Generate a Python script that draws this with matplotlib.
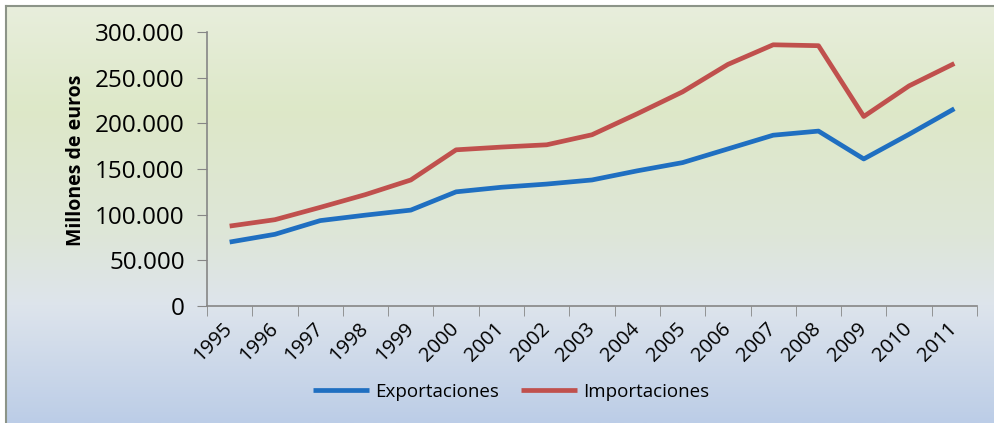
import numpy as np
import matplotlib
matplotlib.use("Agg")
import matplotlib.pyplot as plt
from matplotlib.colors import LinearSegmentedColormap
from matplotlib.ticker import FuncFormatter, FixedLocator

years = [str(y) for y in range(1995, 2012)]
exportaciones = [70000, 78500, 93500, 99500, 105000, 125000, 130000, 133500, 138000,
                 148000, 157000, 172000, 187000, 191500, 161000, 188000, 216000]
importaciones = [87500, 94500, 108000, 122000, 138000, 171000, 174000, 176500, 187500,
                 210500, 234500, 264500, 286000, 285000, 207500, 241000, 265500]

plt.rcParams['font.family'] = ['Open Sans', 'DejaVu Sans']

fig = plt.figure(figsize=(9.95, 4.23), dpi=100)
fig.patch.set_facecolor('white')

# background gradient over the whole chart area
bg = fig.add_axes([7 / 995, 0, 1 - 7 / 995, 1 - 7 / 423], zorder=-10)
cmap = LinearSegmentedColormap.from_list('bg', [
    (0.0, '#e8eedc'), (0.25, '#dde8c8'), (0.55, '#dee6d8'),
    (0.72, '#dde4ec'), (1.0, '#bccde7')])
grad = np.linspace(0, 1, 256).reshape(-1, 1)
bg.imshow(grad, aspect='auto', cmap=cmap, extent=[0, 1, 0, 1], origin='upper')
bg.set_xlim(0, 1)
bg.set_ylim(0, 1)
bg.axis('off')
# frame lines on the left and top
fig.add_artist(plt.Line2D([6.5 / 995, 6.5 / 995], [0, 1 - 6.5 / 423],
                          transform=fig.transFigure, color='#8c9488', lw=1.5))
fig.add_artist(plt.Line2D([6.5 / 995, 1], [1 - 6.5 / 423, 1 - 6.5 / 423],
                          transform=fig.transFigure, color='#8c9488', lw=1.5))

ax = fig.add_axes([207 / 995, 1 - 306 / 423, (977 - 207) / 995, (306 - 32) / 423])
ax.patch.set_alpha(0)
x = np.arange(len(years))
ax.plot(x, exportaciones, color='#1f6fc1', lw=3.4, label='Exportaciones', solid_capstyle='butt')
ax.plot(x, importaciones, color='#c0504d', lw=3.4, label='Importaciones', solid_capstyle='butt')

ax.set_xlim(-0.5, len(years) - 0.5)
ax.set_ylim(0, 300000)
ax.set_yticks(np.arange(0, 300001, 50000))
ax.yaxis.set_major_formatter(FuncFormatter(lambda v, p: f"{int(v):,}".replace(',', '.')))

ax.set_xticks(x)
ax.set_xticklabels(years, rotation=45, ha='right', va='center',
                   rotation_mode='anchor', fontsize=14.5)
ax.xaxis.set_minor_locator(FixedLocator(np.arange(-0.5, len(years), 1)))
ax.tick_params(axis='x', which='major', length=0, pad=14)
ax.tick_params(axis='x', which='minor', length=7, color='#868686', direction='out')
ax.tick_params(axis='y', length=7, color='#868686', labelsize=17.5, pad=9)

for s in ['top', 'right']:
    ax.spines[s].set_visible(False)
for s in ['left', 'bottom']:
    ax.spines[s].set_color('#868686')
    ax.spines[s].set_linewidth(1.2)

ax.set_ylabel('Millones de euros', fontsize=14, fontweight='bold')
ax.yaxis.set_label_coords(-0.157, 0.53)

leg = fig.legend(loc='center', bbox_to_anchor=(511 / 995, 1 - 392 / 423), ncol=2,
                 frameon=False, fontsize=13.5, handlelength=3.0, handletextpad=0.3,
                 columnspacing=1.2)

fig.savefig('out.png', dpi=100)
